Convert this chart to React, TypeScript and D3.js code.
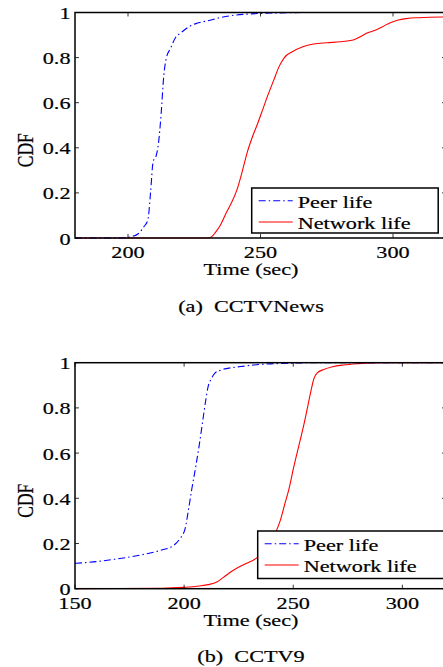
import React from "react";
import * as d3 from "d3";

// values (time in sec, CDF)
const newsPeerT = [180, 198, 201, 204, 206, 207.5, 208.5, 209.5, 210.5, 211.5, 212.5, 213.5, 214.5, 216, 218, 220, 223, 226, 230, 235, 240, 245, 250, 260, 270, 320];
const newsPeerV = [0, 0, 0.005, 0.02, 0.05, 0.08, 0.2, 0.34, 0.36, 0.42, 0.55, 0.72, 0.8, 0.84, 0.89, 0.91, 0.937, 0.952, 0.963, 0.978, 0.988, 0.993, 0.996, 0.999, 1, 1];
const newsNetT = [180, 230, 231.5, 233, 235, 237, 239, 241, 243, 245, 247, 249, 251, 253, 255, 257, 259, 262, 266, 270, 275, 280, 285, 288, 290, 293, 296, 299, 302, 305, 310, 320];
const newsNetV = [0, 0, 0.005, 0.025, 0.06, 0.11, 0.155, 0.21, 0.29, 0.38, 0.45, 0.51, 0.575, 0.64, 0.7, 0.76, 0.8, 0.826, 0.848, 0.86, 0.866, 0.87, 0.878, 0.895, 0.908, 0.92, 0.937, 0.955, 0.967, 0.973, 0.977, 0.98];

const c9PeerT = [150, 160, 168, 176, 184, 190, 195, 198, 200.5, 202, 203.5, 205.5, 207, 208.5, 210, 211, 212.5, 214, 217, 220, 226, 232, 240, 250, 260, 320];
const c9PeerV = [0.112, 0.12, 0.13, 0.142, 0.157, 0.172, 0.19, 0.22, 0.267, 0.35, 0.44, 0.55, 0.64, 0.74, 0.84, 0.894, 0.93, 0.953, 0.968, 0.975, 0.983, 0.99, 0.995, 0.998, 1, 1];
const c9NetT = [150, 190, 200, 207, 211, 215, 218, 222, 227, 233, 237, 240, 242, 244, 246, 248, 250.5, 252.5, 254.5, 256.5, 258, 259.5, 261, 264, 268, 273, 280, 290, 320];
const c9NetV = [0, 0.002, 0.006, 0.012, 0.018, 0.03, 0.05, 0.078, 0.105, 0.134, 0.17, 0.21, 0.25, 0.3, 0.37, 0.44, 0.55, 0.63, 0.71, 0.8, 0.87, 0.93, 0.955, 0.97, 0.982, 0.99, 0.996, 1, 1];

const yTicks = [0, 0.2, 0.4, 0.6, 0.8, 1];
const newsXTicks = [200, 250, 300];
const c9XTicks = [150, 200, 250, 300];
const legendLabels = ["Peer life", "Network life"];

const FONT = "Liberation Serif";
const SX = 1.27; // the figure is stretched sideways
const FS = 17.5;

function Txt(props: { x: number; y: number; anchor?: string; rot?: boolean; children: any }) {
  return (
    <text
      transform={`translate(${props.x},${props.y}) scale(${SX},1)${props.rot ? " rotate(-90)" : ""}`}
      textAnchor={props.anchor || "start"}
      fontFamily={FONT}
      fontSize={FS}
      fill="#000"
      stroke="#000"
      strokeWidth={0.2}
      style={{ whiteSpace: "pre" }}
    >
      {props.children}
    </text>
  );
}

function Panel(props: any) {
  const { top, bottom, xDomain, xTicks, peerT, peerV, netT, netV, caption, legend } = props;
  const left = 75, right = 446;
  const x = d3.scaleLinear().domain(xDomain).range([left, right]);
  const y = d3.scaleLinear().domain([0, 1]).range([bottom, top]);
  const line = d3
    .line<[number, number]>()
    .x((d) => x(d[0]))
    .y((d) => y(d[1]))
    .curve(d3.curveMonotoneX);
  const peer = line(peerT.map((t: number, i: number) => [t, peerV[i]]) as [number, number][]) || "";
  const net = line(netT.map((t: number, i: number) => [t, netV[i]]) as [number, number][]) || "";
  const tl = 4;
  return (
    <g>
      <path d={net} fill="none" stroke="#ff0000" strokeWidth={1.1} />
      <path d={peer} fill="none" stroke="#0000ff" strokeWidth={1.1} strokeDasharray="7,3,1.5,3" />
      {xTicks.map((t: number) => (
        <g key={"x" + t}>
          <line x1={x(t)} x2={x(t)} y1={bottom} y2={bottom - tl} stroke="#000" strokeWidth={0.8} />
          <line x1={x(t)} x2={x(t)} y1={top} y2={top + tl} stroke="#000" strokeWidth={0.8} />
          <Txt x={x(t)} y={bottom + 20} anchor="middle">{String(t)}</Txt>
        </g>
      ))}
      {yTicks.map((t) => (
        <g key={"y" + t}>
          <line x1={left} x2={left + tl} y1={y(t)} y2={y(t)} stroke="#000" strokeWidth={0.8} />
          <line x1={right} x2={right - tl} y1={y(t)} y2={y(t)} stroke="#000" strokeWidth={0.8} />
          <Txt x={70.5} y={y(t) + 6.5} anchor="end">{String(t)}</Txt>
        </g>
      ))}
      <rect x={left} y={top} width={right - left} height={bottom - top} fill="none" stroke="#000" strokeWidth={1.5} />
      <g>
        <rect x={legend.x} y={legend.y} width={legend.w} height={legend.h} fill="#fff" stroke="#000" strokeWidth={1.5} />
        <line x1={legend.x + 7} x2={legend.x + 41} y1={legend.y + 12.7} y2={legend.y + 12.7} stroke="#0000ff" strokeWidth={1.1} strokeDasharray="7,3,1.5,3" />
        <line x1={legend.x + 7} x2={legend.x + 41} y1={legend.y + 34} y2={legend.y + 34} stroke="#ff0000" strokeWidth={1.1} />
        <Txt x={legend.x + 46} y={legend.y + 19.5}>{legendLabels[0]}</Txt>
        <Txt x={legend.x + 46} y={legend.y + 40.5}>{legendLabels[1]}</Txt>
      </g>
      <Txt x={33} y={(top + bottom) / 2 + 25} anchor="middle" rot>CDF</Txt>
      <Txt x={251} y={bottom + 37} anchor="middle">Time (sec)</Txt>
      <Txt x={251} y={bottom + 73.5} anchor="middle">{caption}</Txt>
    </g>
  );
}

export default function App() {
  return (
    <svg width={443} height={667} style={{ position: "absolute", left: 0, top: 0, background: "#fff" }}>
      <Panel
        top={12.5}
        bottom={238}
        xDomain={[180, 320]}
        xTicks={newsXTicks}
        peerT={newsPeerT}
        peerV={newsPeerV}
        netT={newsNetT}
        netV={newsNetV}
        caption={"(a)  CCTVNews"}
        legend={{ x: 251.7, y: 188, w: 186.5, h: 45 }}
      />
      <Panel
        top={362.7}
        bottom={588.7}
        xDomain={[150, 320]}
        xTicks={c9XTicks}
        peerT={c9PeerT}
        peerV={c9PeerV}
        netT={c9NetT}
        netV={c9NetV}
        caption={"(b)  CCTV9"}
        legend={{ x: 257.7, y: 531, w: 200, h: 47.5 }}
      />
    </svg>
  );
}
